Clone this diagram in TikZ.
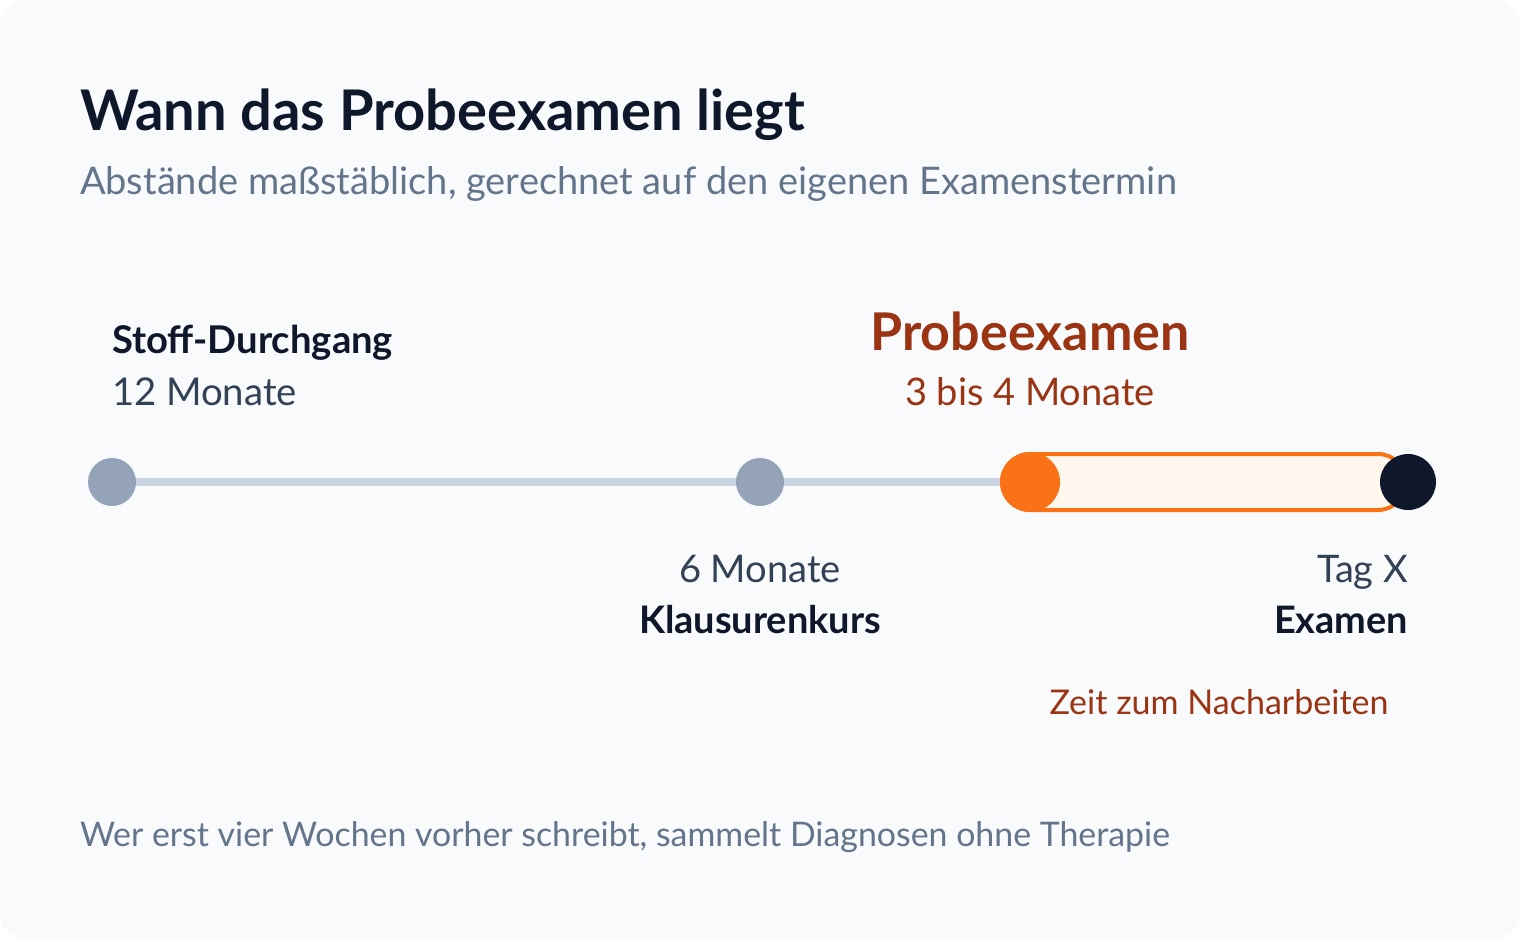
\documentclass[tikz,border=0pt]{standalone}
\usepackage{fontspec}
\setmainfont{Lato}
\definecolor{card}{HTML}{F8FAFC}
\definecolor{ink}{HTML}{0F172A}
\definecolor{muted}{HTML}{64748B}
\definecolor{slate}{HTML}{334155}
\definecolor{rust}{HTML}{9A3412}
\definecolor{orng}{HTML}{F97316}
\definecolor{cream}{HTML}{FFF7ED}
\definecolor{track}{HTML}{CBD5E1}
\definecolor{dotgray}{HTML}{94A3B8}
\newlength\fitlen
\newcommand\fitto[3]{\settowidth\fitlen{#1\fontsize{100}{100}\selectfont #3}\pgfmathsetmacro\fitsz{#2/\fitlen*100}#1\fontsize{\fitsz}{\fitsz}\selectfont #3}
\tikzset{
  lbl/.style={inner sep=0pt, outer sep=0pt},
  tdot/.style={circle, inner sep=0pt, outer sep=0pt, minimum size=#1},
}
\begin{document}
\begin{tikzpicture}[x=1pt,y=-1pt]
\useasboundingbox (0,0) rectangle (1520,938);
\fill[white] (0,0) rectangle (1520,938);
\fill[card, rounded corners=24pt] (0,0) rectangle (1520,938);

% texts
\node[lbl, anchor=base west, text=ink] (title) at (80,130) {\fitto{\bfseries}{725}{Wann das Probeexamen liegt}};
\node[lbl, anchor=base west, text=muted] (sub) at (80,194) {\fitto{}{1097}{Abstände maßstäblich, gerechnet auf den eigenen Examenstermin}};

\node[lbl, anchor=base west, text=ink] (stoff) at (112,353) {\fitto{\bfseries}{281}{Stoff-Durchgang}};
\node[lbl, anchor=base west, text=slate] (m12) at (112,405) {\fitto{}{185}{12 Monate}};

\node[lbl, anchor=base, text=rust] (probe) at (1030,350) {\fitto{\bfseries}{319}{Probeexamen}};
\node[lbl, anchor=base, text=rust] (m34) at (1030,405) {\fitto{}{250}{3 bis 4 Monate}};

\node[lbl, anchor=base, text=slate] (m6) at (760,582) {\fitto{}{162}{6 Monate}};
\node[lbl, anchor=base, text=ink] (klaus) at (760,633) {\fitto{\bfseries}{242}{Klausurenkurs}};

\node[lbl, anchor=base east, text=slate] (tagx) at (1408,582) {\fitto{}{91}{Tag X}};
\node[lbl, anchor=base east, text=ink] (exam) at (1408,633) {\fitto{\bfseries}{134}{Examen}};
\node[lbl, anchor=base, text=rust] (zeit) at (1219,714) {\fitto{}{339}{Zeit zum Nacharbeiten}};

\node[lbl, anchor=base west, text=muted] (foot) at (80,846) {\fitto{}{1090}{Wer erst vier Wochen vorher schreibt, sammelt Diagnosen ohne Therapie}};

% timeline
\coordinate (p12) at (112,482);
\coordinate (p6) at (760,482);
\coordinate (p35) at (1030,482);
\coordinate (p0) at (1408,482);
\draw[track, line width=8pt] (p12) -- (p35);
\draw[orng, fill=cream, line width=4pt, rounded corners=28pt] (1002,454) rectangle (1406,510);
\node[tdot=48pt, fill=dotgray] (d12) at (p12) {};
\node[tdot=48pt, fill=dotgray] (d6) at (p6) {};
\node[tdot=60pt, fill=orng] (d35) at (p35) {};
\node[tdot=56pt, fill=ink] (d0) at (p0) {};
\end{tikzpicture}
\end{document}
